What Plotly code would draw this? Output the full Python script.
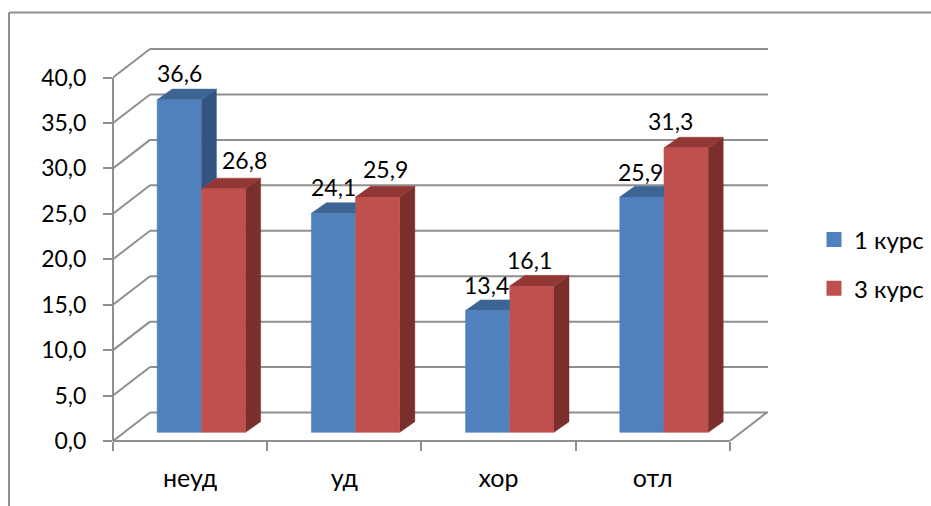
import plotly.graph_objects as go

categories = ["неуд", "уд", "хор", "отл"]
series_names = ["1 курс", "3 курс"]
course1 = [36.6, 24.1, 13.4, 25.9]
course3 = [26.8, 25.9, 16.1, 31.3]
y_ticks = [0, 5, 10, 15, 20, 25, 30, 35, 40]

W, H = 931, 506
L, R, T, B = 113, 768, 42, 441
CAT_PX = 154.2
VAL_PX = (441 - 77.5) / 40
x_max = (R - L) / CAT_PX
y_max = (B - T) / VAL_PX

wall_dx = 37 / CAT_PX
wall_dy = 28.5 / VAL_PX
bar_lift = 8.7 / VAL_PX
bar_shift = 11.3 / CAT_PX
bar_w = 44.2 / CAT_PX
depth_dx = 15 / CAT_PX
depth_dy = 10.6 / VAL_PX

BLUE, RED = "#4F81BD", "#C0504D"
BLUE_TOP, BLUE_SIDE = "#3D6594", "#335480"
RED_TOP, RED_SIDE = "#933735", "#7B2F2D"
GREY = "#8F8F8F"
FONT = "Lato"
FS = 23

fig = go.Figure()
centers = [i + 0.5 + bar_shift for i in range(len(categories))]


def face(xs, ys, color):
    fig.add_trace(go.Scatter(x=xs, y=ys, mode="lines", fill="toself", fillcolor=color,
                             line=dict(width=0.5, color=color), hoverinfo="skip", showlegend=False))


# Front faces
for name, vals, col, side in ((series_names[0], course1, BLUE, -1), (series_names[1], course3, RED, 1)):
    fig.add_trace(go.Bar(x=[c + side * bar_w / 2 for c in centers], y=vals,
                         base=[bar_lift] * len(vals), width=bar_w, name=name,
                         marker=dict(color=col, line=dict(width=0.6, color=col)), showlegend=False))

# Sides and tops
for i, c in enumerate(centers):
    a, b = course1[i] + bar_lift, course3[i] + bar_lift
    x0, x1, x2 = c - bar_w, c, c + bar_w
    if a > b:
        face([x1, x1 + depth_dx, x1 + depth_dx, x1], [a, a + depth_dy, b + depth_dy, b], BLUE_SIDE)
        face([x0, x0 + depth_dx, x1 + depth_dx, x1], [a, a + depth_dy, a + depth_dy, a], BLUE_TOP)
    else:
        face([x0, x0 + depth_dx, x1, x1], [a, a + depth_dy, a + depth_dy, a], BLUE_TOP)
    face([x2, x2 + depth_dx, x2 + depth_dx, x2],
         [bar_lift, bar_lift + depth_dy, b + depth_dy, b], RED_SIDE)
    face([x1, x1 + depth_dx, x2 + depth_dx, x2], [b, b + depth_dy, b + depth_dy, b], RED_TOP)

# Legend entries
for name, col in zip(series_names, (BLUE, RED)):
    fig.add_trace(go.Scatter(x=[None], y=[None], mode="markers", name=name, legendgroup=name,
                             marker=dict(symbol="square", size=15, color=col)))

# Walls
shapes = []
line = dict(color=GREY, width=2)
n = len(categories)
for v in y_ticks:
    shapes.append(dict(type="line", layer="below", xref="x", yref="y", x0=wall_dx, x1=x_max,
                       y0=v + wall_dy, y1=v + wall_dy, line=line))
    shapes.append(dict(type="line", layer="below", xref="x", yref="y", x0=0, x1=wall_dx,
                       y0=v, y1=v + wall_dy, line=line))
shapes += [
    dict(type="line", layer="below", xref="paper", yref="y", x0=0, x1=0, y0=0, y1=y_ticks[-1], line=line),
    dict(type="line", layer="below", xref="x", yref="paper", x0=0, x1=n, y0=0, y1=0, line=line),
    dict(type="line", layer="below", xref="x", yref="y", x0=n, x1=n + wall_dx, y0=0, y1=wall_dy, line=line),
]


def px(x):
    return (x - L) / (R - L)


def py(y):
    return (B - y) / (B - T)


# Outer frame
shapes.append(dict(type="line", xref="paper", yref="paper", x0=px(9), x1=px(9), y0=py(H), y1=py(12.5), line=line))
shapes.append(dict(type="line", xref="paper", yref="paper", x0=px(9), x1=px(W), y0=py(12.5), y1=py(12.5), line=line))

# Data labels
label_dx = [[0, 21], [0, 8], [-1, -2], [-1, -16]]
label_dy = [[27, 29], [26, 28], [25.5, 26], [25, 27]]
annotations = []
for i, c in enumerate(centers):
    for j, vals in enumerate((course1, course3)):
        annotations.append(dict(x=c + (j - 0.5) * bar_w, y=vals[i] + bar_lift, xref="x", yref="y",
                                text=f"{vals[i]:.1f}".replace(".", ","), showarrow=False,
                                xshift=label_dx[i][j], yshift=label_dy[i][j], yanchor="middle",
                                font=dict(family=FONT, size=FS, color="#000000")))

fig.update_layout(
    width=W, height=H, autosize=False,
    margin=dict(l=L, r=W - R, t=T, b=H - B, pad=0, autoexpand=False),
    paper_bgcolor="white", plot_bgcolor="white",
    separators=", ",
    bargap=1 - 2 * bar_w, barmode="overlay",
    font=dict(family=FONT, size=FS, color="#000000"),
    shapes=shapes, annotations=annotations,
    legend=dict(x=px(814), y=py(217.5), xanchor="left", yanchor="top", tracegroupgap=14.5,
                font=dict(family=FONT, size=24), bgcolor="rgba(0,0,0,0)", itemclick=False),
    xaxis=dict(range=[0, x_max], showgrid=False, zeroline=False, showline=False,
               tickmode="array", tickvals=[i + 0.5 for i in range(n)], ticktext=categories,
               tickfont=dict(family=FONT, size=25),
               ticks="", ticklabelstandoff=20,
               minor=dict(tickmode="array", tickvals=list(range(n + 1)), ticks="outside",
                          ticklen=9, tickwidth=2, tickcolor=GREY, showgrid=False)),
    yaxis=dict(range=[0, y_max], showgrid=False, zeroline=False, showline=False,
               tickmode="array", tickvals=y_ticks, ticktext=[f"{v:.1f}".replace(".", ",") for v in y_ticks],
               ticks="outside", ticklen=9, tickwidth=2, tickcolor=GREY, ticklabelstandoff=12),
)

fig.write_html("out.html", post_script="document.body.style.margin='0';",
               config=dict(displayModeBar=False))
